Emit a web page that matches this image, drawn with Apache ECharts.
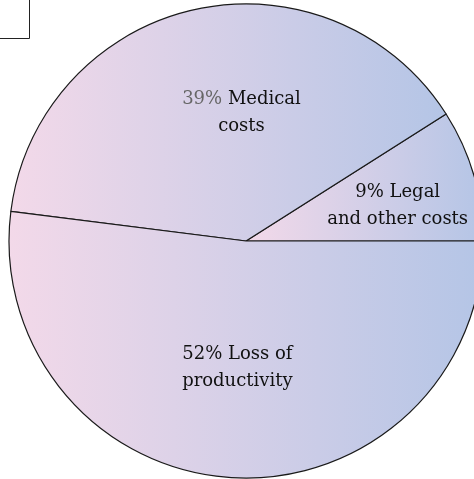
<!DOCTYPE html>
<html>
<head>
<meta charset="utf-8">
<script src="https://cdn.jsdelivr.net/npm/echarts@6/dist/echarts.min.js"></script>
<style>
  html, body { margin: 0; padding: 0; background: #fff; }
  #chart { width: 474px; height: 479px; }
</style>
</head>
<body>
<div id="chart"></div>
<script>
  // cost categories, counter-clockwise from 3 o'clock
  var categories = ['Legal and other costs', 'Medical costs', 'Loss of productivity'];
  var shares = [9, 39, 52];
  var labelLines = [
    ['9% Legal', 'and other costs'],
    ['{g|39%} Medical', 'costs'],
    ['52% Loss of', 'productivity']
  ];

  var chart = echarts.init(document.getElementById('chart'));

  // each slice gets its own left-to-right pink -> blue fill
  function sliceFill() {
    return new echarts.graphic.LinearGradient(0, 0, 1, 0, [
      { offset: 0, color: '#f3d9e9' },
      { offset: 1, color: '#b4c5e6' }
    ]);
  }

  // nudges so labels sit where the original has them
  var labelOffsets = [[35, -1], [22, -10], [-1, 6]];

  var data = categories.map(function (name, i) {
    return {
      name: name,
      value: shares[i],
      itemStyle: { color: sliceFill() },
      label: { offset: labelOffsets[i] }
    };
  });

  chart.setOption({
    animation: false,
    series: [{
      type: 'pie',
      center: [246, 241],
      radius: 237,
      startAngle: 0,
      clockwise: false,
      data: data,
      itemStyle: {
        borderColor: '#1a1a1a',
        borderWidth: 1.2
      },
      label: {
        show: true,
        position: 'inside',
        color: '#111',
        fontFamily: 'DejaVu Serif',
        fontSize: 18,
        lineHeight: 27,
        align: 'center',
        formatter: function (p) {
          return labelLines[p.dataIndex].join('\n');
        },
        rich: {
          g: { color: '#666', fontFamily: 'DejaVu Serif', fontSize: 18, lineHeight: 27 }
        }
      },
      labelLine: { show: false },
      emphasis: { disabled: true }
    }],
    graphic: [
      {
        type: 'rect',
        shape: { x: -2, y: -2, width: 31.5, height: 40.5 },
        style: { fill: 'none', stroke: '#222', lineWidth: 1 }
      },
      {
        type: 'text',
        x: -9, y: -5,
        style: { text: 'e', font: '16px DejaVu Serif', fill: '#222' }
      }
    ]
  });
</script>
</body>
</html>
